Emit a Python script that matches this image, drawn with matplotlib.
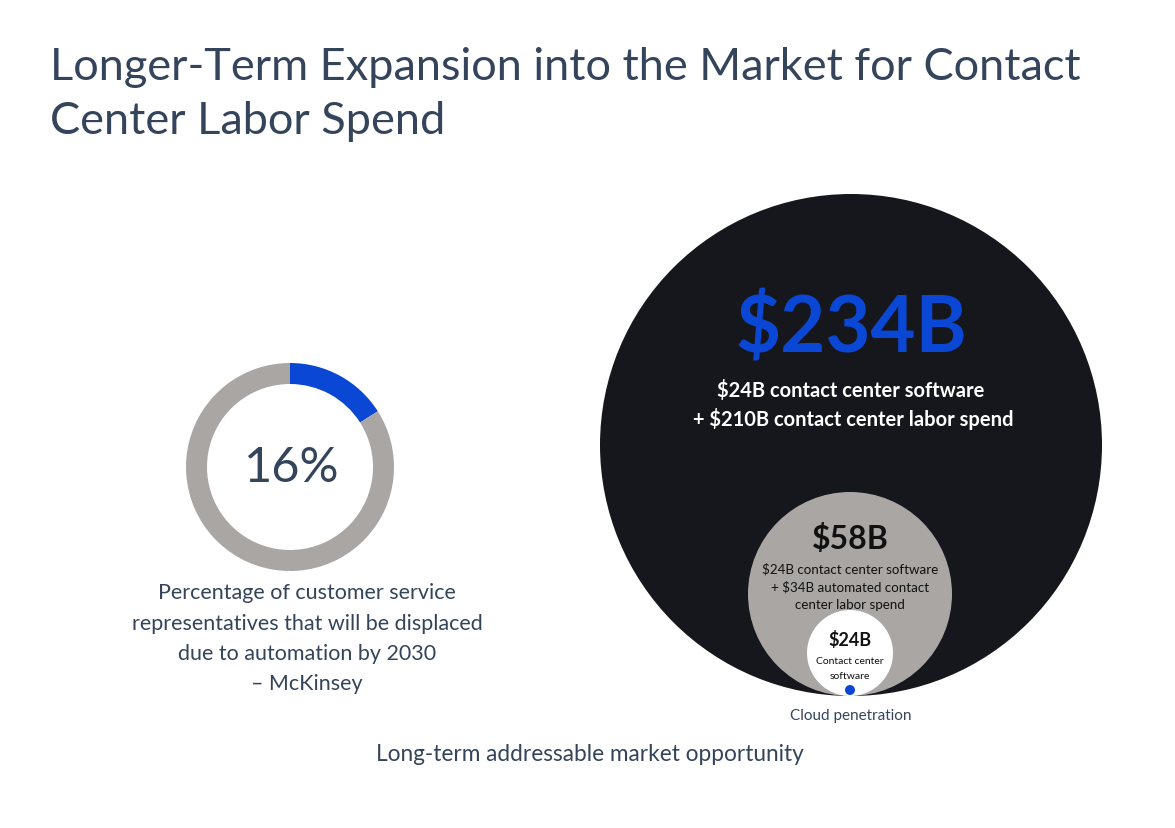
import matplotlib
matplotlib.use("Agg")
import matplotlib.pyplot as plt
from matplotlib.patches import Circle

plt.rcParams['font.family'] = ['Lato', 'DejaVu Sans']

W, H = 1175, 829

# data
title_lines = ["Longer-Term Expansion into the Market for Contact", "Center Labor Spend"]
displaced_pct = 16
donut_caption = ["Percentage of customer service",
                 "representatives that will be displaced",
                 "due to automation by 2030",
                 "\u2013 McKinsey"]
market_values = ["$234B", "$58B", "$24B"]
market_notes = [["$24B contact center software", "+ $210B contact center labor spend"],
                ["$24B contact center software", "+ $34B automated contact", "center labor spend"],
                ["Contact center", "software"]]
dot_label = "Cloud penetration"
footer = "Long-term addressable market opportunity"

SLATE = '#34445a'
BLUE = '#0a47d4'
GREY = '#a9a6a4'
DARK = '#16161d'


def fy(y):
    # picture y (top down) -> axes y
    return H - y


fig = plt.figure(figsize=(W / 100, H / 100), dpi=100)
ax = fig.add_axes([0, 0, 1, 1])

# donut
ax.pie([displaced_pct, 100 - displaced_pct], colors=[BLUE, GREY],
       startangle=90, counterclock=False, radius=104, center=(290, fy(468)),
       wedgeprops=dict(width=21, edgecolor='none'))
ax.text(292, fy(468), f"{displaced_pct}%", ha='center', va='center',
        fontsize=35, color=SLATE)
for i, line in enumerate(donut_caption):
    ax.text(307, fy(593 + 30.5 * i), line, ha='center', va='center',
            fontsize=15.5, color=SLATE)

# nested circles
ax.add_patch(Circle((851, fy(446)), 251, color=DARK, lw=0))
ax.add_patch(Circle((850, fy(595)), 102, color=GREY, lw=0))
ax.add_patch(Circle((850, fy(654)), 43, color='white', lw=0))
ax.add_patch(Circle((850, fy(691)), 5, color=BLUE, lw=0))

ax.text(851, fy(330), market_values[0], ha='center', va='center',
        fontsize=56, fontweight='bold', color=BLUE)
ax.text(851, fy(391), market_notes[0][0], ha='center', va='center',
        fontsize=14.5, fontweight='bold', color='white')
ax.text(853, fy(419), market_notes[0][1], ha='center', va='center',
        fontsize=14.5, fontweight='bold', color='white')

ax.text(850, fy(539), market_values[1], ha='center', va='center',
        fontsize=23, fontweight='bold', color='#111111')
for i, line in enumerate(market_notes[1]):
    ax.text(850, fy(569 + 18 * i), line, ha='center', va='center',
            fontsize=9.6, color='#111111')

ax.text(850, fy(640), market_values[2], ha='center', va='center',
        fontsize=13, fontweight='bold', color='#111111')
for i, line in enumerate(market_notes[2]):
    ax.text(850, fy(662 + 15 * i), line, ha='center', va='center',
            fontsize=7.5, color='#111111')

ax.text(851, fy(716), dot_label, ha='center', va='center',
        fontsize=11, color=SLATE)
ax.text(590, fy(755), footer, ha='center', va='center',
        fontsize=16.3, color=SLATE)

# title
for i, line in enumerate(title_lines):
    ax.text(50, fy(68 + 54 * i), line, ha='left', va='center',
            fontsize=32.5, fontweight='normal', color=SLATE)

ax.set_xlim(0, W)
ax.set_ylim(0, H)
ax.set_aspect('auto')
ax.axis('off')

fig.savefig('out.png', dpi=100, facecolor='white')
